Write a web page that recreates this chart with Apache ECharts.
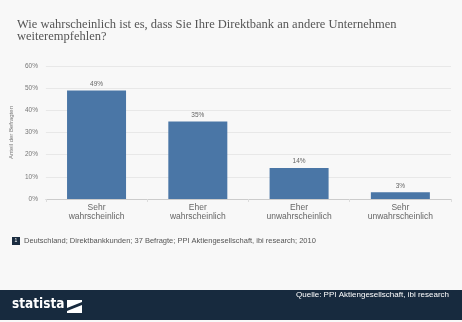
<!DOCTYPE html>
<html>
<head>
<meta charset="utf-8">
<script src="https://cdn.jsdelivr.net/npm/echarts@6/dist/echarts.min.js"></script>
<style>
  html, body { margin: 0; padding: 0; background: #f8f8f8; }
  #chart { width: 462px; height: 322px; }
</style>
</head>
<body>
<div id="chart"></div>
<script>
// Survey answers and shares of respondents (percent)
const categories = ['Sehr\nwahrscheinlich', 'Eher\nwahrscheinlich', 'Eher\nunwahrscheinlich', 'Sehr\nunwahrscheinlich'];
const shares = [49, 35, 14, 3];
const yTicks = [0, 10, 20, 30, 40, 50, 60];

const titleText = 'Wie wahrscheinlich ist es, dass Sie Ihre Direktbank an andere Unternehmen\nweiterempfehlen?';
const noteText = 'Deutschland; Direktbankkunden; 37 Befragte; PPI Aktiengesellschaft, ibi research; 2010';
const sourceText = 'Quelle: PPI Aktiengesellschaft, ibi research';

const chart = echarts.init(document.getElementById('chart'), null, { renderer: 'canvas' });

chart.setOption({
  backgroundColor: '#f8f8f8',
  animation: false,
  title: {
    text: titleText,
    left: 12,
    top: 14,
    textStyle: {
      fontFamily: 'Liberation Serif',
      fontWeight: 'normal',
      fontSize: 12.5,
      color: '#555',
      lineHeight: 12
    }
  },
  grid: { left: 44, right: 11, top: 66, bottom: 123 },
  xAxis: {
    type: 'category',
    data: categories,
    axisTick: { show: true, alignWithLabel: false, length: 3, lineStyle: { color: '#ddd' } },
    axisLine: { lineStyle: { color: '#ccc' } },
    axisLabel: {
      fontFamily: 'Liberation Sans',
      fontSize: 8.5,
      color: '#666',
      lineHeight: 9,
      margin: 4
    }
  },
  yAxis: {
    type: 'value',
    min: yTicks[0],
    max: yTicks[yTicks.length - 1],
    interval: 10,
    name: 'Anteil der Befragten',
    nameLocation: 'middle',
    nameGap: 27,
    nameTextStyle: { fontFamily: 'Liberation Sans', fontSize: 6, color: '#777' },
    axisLine: { show: false },
    axisTick: { show: false },
    splitLine: { lineStyle: { color: '#e8e8e8', width: 1 } },
    axisLabel: {
      fontFamily: 'Liberation Sans',
      fontSize: 6.5,
      color: '#777',
      margin: 8,
      formatter: v => v + '%'
    }
  },
  series: [{
    type: 'bar',
    data: shares,
    barWidth: 59,
    itemStyle: { color: '#4a76a6' },
    label: {
      show: true,
      position: 'top',
      distance: 3,
      fontFamily: 'Liberation Sans',
      fontSize: 6.5,
      color: '#666',
      formatter: p => p.value + '%'
    }
  }],
  graphic: [
    // footnote marker
    { type: 'rect', left: 12, top: 237, shape: { width: 8, height: 8 }, style: { fill: '#1b2c40' } },
    { type: 'text', left: 14.5, top: 238.5, style: { text: '1', fontSize: 5, fill: '#fff', fontFamily: 'Liberation Sans' } },
    { type: 'text', left: 24, top: 237, style: { text: noteText, fontSize: 7.5, fill: '#555', fontFamily: 'Liberation Sans' } },
    // footer band
    { type: 'rect', left: 0, top: 290, shape: { width: 462, height: 30 }, style: { fill: '#172a3e' } },
    { type: 'text', right: 13, top: 291, style: { text: sourceText, fontSize: 8, fill: '#fff', fontFamily: 'Liberation Sans' } },
    { type: 'text', left: 12, top: 297.5, style: { text: 'statista', fontSize: 13.5, fontWeight: 'bold', fill: '#fff', fontFamily: 'DejaVu Sans Condensed' } },
    // logo mark
    { type: 'polygon', shape: { points: [[67, 300], [82, 300], [82, 302], [67, 308]] }, style: { fill: '#fff' } },
    { type: 'polygon', shape: { points: [[82, 305], [82, 313], [67, 313], [67, 311]] }, style: { fill: '#fff' } }
  ]
});
</script>
</body>
</html>
